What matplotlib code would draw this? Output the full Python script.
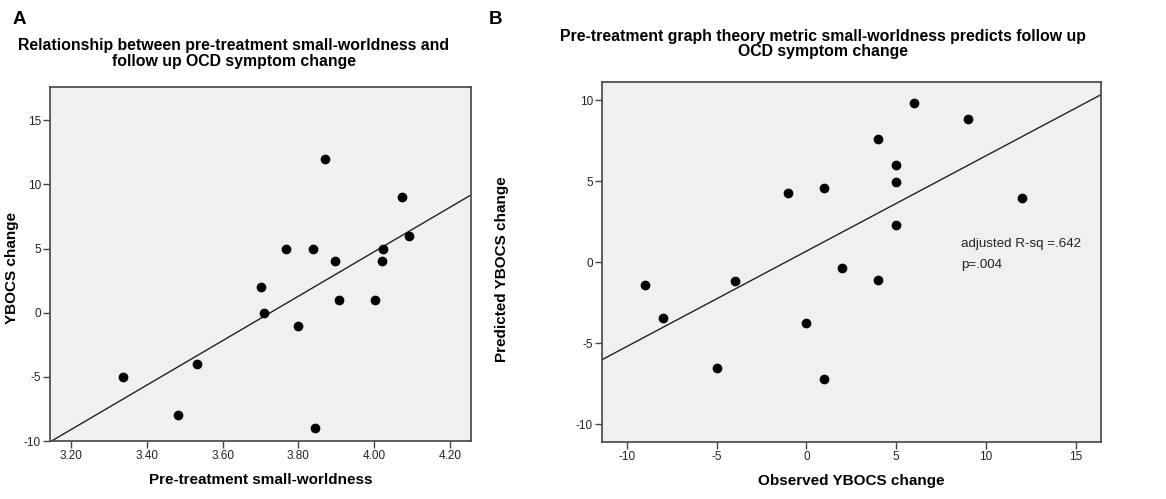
import numpy as np
import matplotlib
matplotlib.use("Agg")
import matplotlib.pyplot as plt

plt.rcParams["font.family"] = ["Liberation Sans", "DejaVu Sans"]
plt.rcParams["axes.unicode_minus"] = False

# panel A: pre-treatment small-worldness vs YBOCS change
sw_pre = [3.338, 3.483, 3.533, 3.701, 3.708, 3.766, 3.799, 3.838, 3.843,
          3.869, 3.897, 3.906, 4.002, 4.022, 4.021, 4.074, 4.092]
ybocs_change = [-5, -8, -4, 2, 0, 5, -1, 5, -9, 12, 4, 1, 1, 5, 4, 9, 6]

# panel B: observed vs predicted YBOCS change
observed = [-9, -8, -5, -4, -1, 0, 1, 1, 2, 4, 4, 5, 5, 5, 6, 9, 12]
predicted = [-1.42, -3.47, -6.51, -1.13, 4.30, -3.74, 4.61, -7.19, -0.35,
             7.58, -1.09, 6.0, 4.93, 2.32, 9.83, 8.86, 3.99]

xticks_a = [3.2, 3.4, 3.6, 3.8, 4.0, 4.2]
yticks_a = [-10, -5, 0, 5, 10, 15]
xticks_b = [-10, -5, 0, 5, 10, 15]
yticks_b = [-10, -5, 0, 5, 10]

W, H = 1166, 499
fig = plt.figure(figsize=(W / 100, H / 100), dpi=100)

def px_axes(l, t, r, b):
    return fig.add_axes([l / W, 1 - b / H, (r - l) / W, (b - t) / H])

def style(ax):
    ax.set_facecolor("#f0f0f0")
    for s in ax.spines.values():
        s.set_color("#444444")
        s.set_linewidth(1.2)
    ax.tick_params(direction="out", length=5, width=1, color="#444444",
                   labelsize=8.5, labelcolor="#222222", pad=1.5)

def fit_line(ax, x, y, xlim):
    k, c = np.polyfit(x, y, 1)
    xs = np.array(xlim)
    ax.plot(xs, k * xs + c, color="#222222", lw=1.0, zorder=2)

lab = dict(fontsize=11, fontweight="bold")

# ---- A
axa = px_axes(50, 87, 471, 441)
style(axa)
axa.scatter(sw_pre, ybocs_change, s=36, color="black", zorder=3)
xlim_a = (3.145, 4.255)
fit_line(axa, sw_pre, ybocs_change, xlim_a)
axa.set_xlim(xlim_a)
axa.set_ylim(-10, 17.6)
axa.set_xticks(xticks_a)
axa.set_xticklabels([f"{v:.2f}" for v in xticks_a])
axa.set_yticks(yticks_a)
axa.set_xlabel("Pre-treatment small-worldness", labelpad=8, **lab)
axa.set_ylabel("YBOCS change", va="center", **lab)
axa.yaxis.set_label_coords(-0.09, 0.49)

# ---- B
axb = px_axes(602, 82, 1101, 442)
style(axb)
axb.scatter(observed, predicted, s=36, color="black", zorder=3)
xlim_b = (-11.38, 16.41)
fit_line(axb, observed, predicted, xlim_b)
axb.set_xlim(xlim_b)
axb.set_ylim(-11.1, 11.13)
axb.set_xticks(xticks_b)
axb.set_yticks(yticks_b)
axb.set_xlabel("Observed YBOCS change", labelpad=8, **lab)
axb.set_ylabel("Predicted YBOCS change", va="center", **lab)
axb.yaxis.set_label_coords(-0.2, 0.48)
axb.text(8.6, 1.15, "adjusted R-sq =.642", fontsize=9.6, va="center", color="#222222")
axb.text(8.6, -0.2, "p=.004", fontsize=9.6, va="center", color="#222222")

# titles and panel letters
fig.text(234 / W, 1 - 53.5 / H,
         "Relationship between pre-treatment small-worldness and\nfollow up OCD symptom change",
         ha="center", va="center", fontsize=11.4, fontweight="bold", linespacing=1.05)
fig.text(823 / W, 1 - 44 / H,
         "Pre-treatment graph theory metric small-worldness predicts follow up\nOCD symptom change",
         ha="center", va="center", fontsize=11.4, fontweight="bold", linespacing=1.05)
fig.text(19 / W, 1 - 19 / H, "A", ha="center", va="center", fontsize=13.5, fontweight="bold")
fig.text(495 / W, 1 - 19 / H, "B", ha="center", va="center", fontsize=13.5, fontweight="bold")

fig.savefig("out.png", dpi=100)
